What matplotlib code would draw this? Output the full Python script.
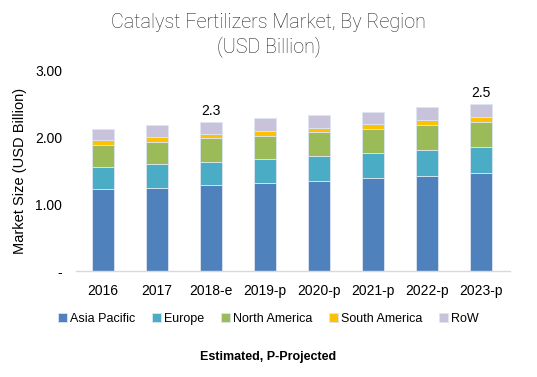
import matplotlib
matplotlib.use("Agg")
import matplotlib.pyplot as plt

years = ["2016", "2017", "2018-e", "2019-p", "2020-p", "2021-p", "2022-p", "2023-p"]
asia_pacific = [1.23, 1.25, 1.29, 1.32, 1.35, 1.40, 1.42, 1.47]
europe = [0.33, 0.35, 0.35, 0.36, 0.37, 0.37, 0.40, 0.39]
north_america = [0.33, 0.33, 0.35, 0.35, 0.36, 0.36, 0.37, 0.37]
south_america = [0.07, 0.08, 0.06, 0.07, 0.07, 0.07, 0.07, 0.08]
row = [0.17, 0.18, 0.19, 0.19, 0.19, 0.19, 0.20, 0.20]
series_names = ["Asia Pacific", "Europe", "North America", "South America", "RoW"]
annotations = {2: "2.3", 7: "2.5"}
yticks = [0, 1, 2, 3]
ytick_labels = ["-", "1.00", "2.00", "3.00"]

plt.rcParams['font.family'] = ['Liberation Sans', 'DejaVu Sans']

fig = plt.figure(figsize=(5.37, 3.77), dpi=100)
ax = fig.add_axes([0.1415, 0.281, 0.8085, 0.531])

colors = ["#4F81BD", "#4BACC6", "#9BBB59", "#FFC000", "#C8C2DA"]
data = [asia_pacific, europe, north_america, south_america, row]
x = list(range(len(years)))
bottom = [0.0] * len(years)
for vals, c, n in zip(data, colors, series_names):
    ax.bar(x, vals, width=0.41, bottom=bottom, color=c, label=n,
           edgecolor="#DCE6F2", linewidth=0.6)
    bottom = [b + v for b, v in zip(bottom, vals)]

for i, t in annotations.items():
    ax.text(i, bottom[i] + 0.06, t, ha="center", va="bottom", fontsize=10, color="#000000")

ax.set_xlim(-0.5, 7.54)
ax.set_ylim(0, 3.0)
ax.set_yticks(yticks)
ax.set_yticklabels(ytick_labels)
ax.set_xticks(x)
ax.set_xticklabels(years)
ax.tick_params(axis="both", length=0, labelsize=10, colors="#000000")
ax.tick_params(axis="y", pad=10)
ax.tick_params(axis="x", pad=9)
for s in ["top", "right", "left"]:
    ax.spines[s].set_visible(False)
ax.spines["bottom"].set_color("#D9D9D9")
ax.spines["bottom"].set_linewidth(1.0)

ax.set_ylabel("Market Size (USD Billion)", fontsize=10.5, color="#000000", labelpad=6)

fig.text(0.5, 0.965, "Catalyst Fertilizers Market, By Region\n(USD Billion)",
         ha="center", va="top", fontsize=14.2, color="#262626",
         family=['Roboto', 'DejaVu Sans'], fontweight="light", linespacing=1.25)

leg = fig.legend(loc="center", bbox_to_anchor=(0.5, 0.155), ncol=5, frameon=False,
                 fontsize=9, handlelength=0.7, handleheight=0.7, handletextpad=0.3,
                 columnspacing=1.3)

fig.text(0.5, 0.052, "Estimated, P-Projected", ha="center", va="center",
         fontsize=9, fontweight="bold", color="#000000")

fig.savefig("out.png", dpi=100)
